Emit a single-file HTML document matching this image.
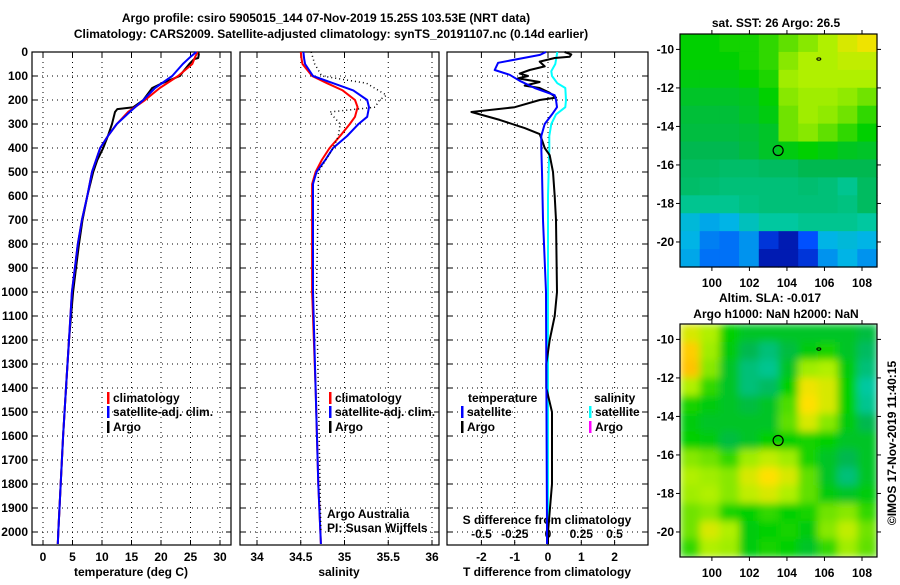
<!DOCTYPE html>
<html><head><meta charset="utf-8"><style>
body{margin:0;background:#fff}
svg text{font-family:"Liberation Sans",sans-serif;font-weight:bold;font-size:12px;fill:#000}
</style></head><body>
<svg id="c" width="900" height="580" xmlns="http://www.w3.org/2000/svg">
<defs>
<filter id="blur" x="0" y="0" width="1" height="1"><feGaussianBlur stdDeviation="4" edgeMode="duplicate"/></filter>
<clipPath id="clip2"><rect x="680" y="324" width="197" height="233"/></clipPath>
</defs>
<text x="326" y="22" text-anchor="middle" font-size="13">Argo profile: csiro 5905015_144 07-Nov-2019 15.25S 103.53E (NRT data)</text>
<text x="331" y="38" text-anchor="middle" font-size="13">Climatology: CARS2009. Satellite-adjusted climatology: synTS_20191107.nc (0.14d earlier)</text>
</svg>
<script>
const depthTicks=[0,100,200,300,400,500,600,700,800,900,1000,1100,1200,1300,1400,1500,1600,1700,1800,1900,2000];
const tempTicks=[0,5,10,15,20,25,30];
const salTicks=[34,34.5,35,35.5,36];
const dTTicks=[-2,-1,0,1,2];
const dSTicks=[-0.5,-0.25,0,0.25,0.5];
const dSTickLabels=["-0.5","-0.25","0","0.25","0.5"];
// temperature profiles
const tArgoDepth=[0,10,25,30,50,80,100,130,150,200,230,238,250,300,350,400,450,500,600,700,800,900,1000,1200,1400,1600,1800,2000,2050];
const tArgo=[26.3,26.4,26.3,25.6,24.8,23.8,23.2,20.2,18.5,17.0,15.3,12.6,12.2,11.7,11.0,10.2,9.2,8.5,7.5,6.7,6.1,5.6,5.1,4.4,3.9,3.4,3.0,2.6,2.5];
const tClimDepth=[0,20,50,100,150,200,250,300,350,400,450,500,600,700,800,900,1000,1200,1400,1600,1800,2000,2050];
const tClim=[26.2,25.8,25.3,22.9,19.8,17.3,14.4,12.5,11.0,9.7,9.0,8.3,7.5,6.6,5.9,5.4,4.9,4.4,3.9,3.4,3.0,2.6,2.5];
const tSat=[26.0,25.0,23.7,21.9,19.0,17.0,14.7,12.5,11.0,9.7,9.0,8.3,7.5,6.6,5.9,5.4,4.9,4.4,3.9,3.4,3.0,2.6,2.5];
// salinity profiles
const sDepth=[0,30,50,100,130,160,200,230,270,300,350,400,450,500,550,700,1000,1400,1800,2050];
const sClim=[34.50,34.51,34.52,34.63,34.80,34.98,35.12,35.15,35.12,35.06,34.95,34.83,34.74,34.67,34.63,34.63,34.63,34.67,34.70,34.73];
const sSat=[34.53,34.54,34.55,34.64,34.87,35.10,35.26,35.28,35.26,35.16,35.03,34.87,34.78,34.68,34.64,34.64,34.64,34.67,34.70,34.73];
const sArgoDepth=[0,50,100,130,180,200,230,250,300,350,400,500,600,1000,1400,2000];
const sArgo=[34.62,34.66,34.74,35.25,35.48,35.40,35.35,34.83,34.95,34.93,34.87,34.70,34.70,34.68,34.70,34.73];
// differences
const dTSatDepth=[0,12,45,75,95,120,150,180,200,230,260,300,350,400,500,700,1000,2000,2050];
const dTSat=[-0.06,-0.24,-1.5,-1.6,-1.15,-0.85,-0.4,0.2,0.24,0.27,0.12,-0.1,-0.2,-0.2,-0.18,-0.15,-0.06,-0.03,-0.03];
const dTArgoDepth=[0,10,20,25,40,60,75,90,100,110,125,140,150,170,190,200,230,250,283,317,342,367,400,430,500,600,700,1000,1100,1200,1300,1400,1500,1700,1800,2000,2050];
const dTArgo=[0.5,0.7,0.65,0.2,-0.25,-0.1,-0.55,-0.85,-0.6,-0.9,-0.25,-0.7,-0.25,0.05,0.24,-0.25,-1.0,-2.3,-1.45,-0.7,-0.25,-0.18,-0.1,0.05,0.15,0.2,0.24,0.27,0.2,0.05,-0.05,-0.05,0.12,0.12,0.12,0.0,0.0];
const dSSatDepth=[0,50,80,100,130,150,200,230,260,300,350,400,600,1000,2000,2050];
const dSSat=[0.07,0.055,0.025,0.03,0.07,0.13,0.135,0.13,0.06,0.025,0.01,0.01,0.0,0.0,0.0,0.0];
// maps: rows from north (-9.2) to south (-21.3), cols west (98.3) to east (108.8)
const sstGrid=[
[0.6,0.6,0.62,0.62,0.65,0.7,0.75,0.8,0.85,0.88],
[0.6,0.6,0.6,0.62,0.65,0.75,0.8,0.8,0.82,0.82],
[0.58,0.58,0.58,0.6,0.63,0.78,0.8,0.8,0.8,0.8],
[0.55,0.55,0.55,0.56,0.6,0.75,0.78,0.78,0.76,0.72],
[0.53,0.53,0.53,0.55,0.58,0.72,0.78,0.76,0.72,0.65],
[0.52,0.52,0.52,0.53,0.55,0.72,0.75,0.7,0.65,0.6],
[0.5,0.5,0.5,0.52,0.55,0.58,0.6,0.58,0.56,0.55],
[0.48,0.48,0.47,0.47,0.48,0.48,0.5,0.5,0.5,0.5],
[0.47,0.46,0.45,0.45,0.45,0.45,0.46,0.45,0.42,0.48],
[0.42,0.42,0.42,0.44,0.45,0.45,0.45,0.45,0.44,0.48],
[0.32,0.28,0.3,0.36,0.4,0.4,0.42,0.42,0.42,0.4],
[0.3,0.22,0.2,0.25,0.1,0.05,0.15,0.3,0.32,0.3],
[0.28,0.2,0.2,0.25,0.05,0.05,0.1,0.25,0.3,0.25]];
const slaGrid=[
[0.85,0.8,0.6,0.55,0.55,0.55,0.55,0.55,0.55,0.52],
[0.92,0.78,0.58,0.5,0.45,0.52,0.58,0.62,0.55,0.48],
[0.93,0.75,0.55,0.45,0.42,0.55,0.78,0.8,0.58,0.45],
[0.8,0.65,0.55,0.45,0.48,0.6,0.88,0.85,0.6,0.4],
[0.62,0.58,0.55,0.52,0.55,0.68,0.9,0.85,0.6,0.42],
[0.58,0.55,0.55,0.55,0.55,0.7,0.85,0.75,0.58,0.5],
[0.6,0.58,0.52,0.55,0.6,0.6,0.62,0.6,0.55,0.55],
[0.75,0.72,0.65,0.78,0.82,0.78,0.62,0.55,0.5,0.55],
[0.8,0.78,0.75,0.85,0.9,0.85,0.7,0.55,0.45,0.55],
[0.78,0.8,0.75,0.82,0.85,0.8,0.7,0.58,0.55,0.58],
[0.72,0.75,0.62,0.6,0.65,0.6,0.62,0.72,0.75,0.65],
[0.72,0.85,0.8,0.58,0.6,0.62,0.58,0.75,0.82,0.72],
[0.65,0.8,0.78,0.58,0.62,0.6,0.55,0.65,0.78,0.7]];
const latTicks=[-10,-12,-14,-16,-18,-20];
const lonTicks=[100,102,104,106,108];
const argoPos=[103.53,-15.25];

const svg=document.getElementById('c');
const NS='http://www.w3.org/2000/svg';
function el(tag,attrs,parent){const e=document.createElementNS(NS,tag);for(const k in attrs)e.setAttribute(k,attrs[k]);(parent||svg).appendChild(e);return e;}
const TOP=52,BOT=545;
const yD=d=>TOP+d*0.24;
const xT=t=>43+t*5.9;
const xS=s=>257+(s-34)*87.5;
const xdT=t=>548+t*33.3;
const xdS=s=>548+s*133;
const panels=[{x0:32,x1:231},{x0:240,x1:439},{x0:447,x1:648}];

function panelFrame(p,xs,ticks,labels,name){
  const g=el('g',{});
  
  
  depthTicks.forEach(d=>{
    const l=el('line',{x1:p.x0,x2:p.x1,y1:yD(d),y2:yD(d),stroke:'#000','stroke-width':1,'stroke-dasharray':'1,4'},g);
    
    
    el('line',{x1:p.x0,x2:p.x0+5,y1:yD(d),y2:yD(d),stroke:'#000'},g);
    el('line',{x1:p.x1-5,x2:p.x1,y1:yD(d),y2:yD(d),stroke:'#000'},g);
  });
  ticks.forEach((t,i)=>{
    const x=xs(t);
    const l=el('line',{x1:x,x2:x,y1:TOP,y2:BOT,stroke:'#000','stroke-dasharray':'1,4'},g);
    
    
    el('line',{x1:x,x2:x,y1:BOT-5,y2:BOT,stroke:'#000'},g);
    el('line',{x1:x,x2:x,y1:TOP,y2:TOP+5,stroke:'#000'},g);
    const tx=el('text',{x:x,y:561,'text-anchor':'middle'},g);
    tx.textContent=labels[i];
    
    
  });
  el('rect',{x:p.x0,y:TOP,width:p.x1-p.x0,height:BOT-TOP,fill:'none',stroke:'#000','stroke-width':1.2},g);
}
panelFrame(panels[0],xT,tempTicks,tempTicks.map(String),'temperature-panel');
panelFrame(panels[1],xS,salTicks,salTicks.map(String),'salinity-panel');
panelFrame(panels[2],xdT,dTTicks,dTTicks.map(String),'difference-panel');

depthTicks.forEach(d=>{
  const t=el('text',{x:28,y:yD(d)+4,'text-anchor':'end'});
  t.textContent=d;
  
  
});
function txt(s,x,y,name,extra){const t=el('text',Object.assign({x:x,y:y},extra||{}));t.textContent=s;return t;}
txt('temperature (deg C)',131,576,'x-axis-title-temperature',{'text-anchor':'middle'});
txt('salinity',339,576,'x-axis-title-salinity',{'text-anchor':'middle'});
txt('T difference from climatology',547,576,'x-axis-title-t-difference',{'text-anchor':'middle'});
txt('S difference from climatology',547,524,'s-difference-axis-title',{'text-anchor':'middle'});
dSTicks.forEach((s,i)=>{txt(dSTickLabels[i],xdS(s),538,'s-difference-tick-label',{'text-anchor':'middle'});});

function line(xs,ds,vs,color,w,name,dash){
  const pts=ds.map((d,i)=>xs(vs[i]).toFixed(1)+','+yD(d).toFixed(1)).join(' ');
  const a={points:pts,fill:'none',stroke:color,'stroke-width':w,'stroke-linejoin':'round'};
  if(dash)a['stroke-dasharray']=dash;
  const p=el('polyline',a);
  
  
}
line(xT,tArgoDepth,tArgo,'#000',2,'temperature-argo-line');
line(xT,tClimDepth,tClim,'#f00',2,'temperature-climatology-line');
line(xT,tClimDepth,tSat,'#00f',2,'temperature-satellite-line');
line(xS,sDepth,sClim,'#f00',2,'salinity-climatology-line');
line(xS,sDepth,sSat,'#00f',2,'salinity-satellite-line');
line(xS,sArgoDepth,sArgo,'#000',1.5,'salinity-argo-line','1,3');
line(xdS,dSSatDepth,dSSat,'#00ffff',2,'s-difference-satellite-line');
line(xdT,dTArgoDepth,dTArgo,'#000',2,'t-difference-argo-line');
line(xdT,dTSatDepth,dTSat,'#00f',2,'t-difference-satellite-line');

function legend(x,y,color,label,name){
  const r=el('rect',{x:x,y:y-10,width:2.5,height:12,fill:color});
  
  
  txt(label,x+6,y,name);
}
legend(107,402,'#f00','climatology','legend-climatology');
legend(107,416,'#00f','satellite-adj. clim.','legend-satellite-adj');
legend(107,431,'#000','Argo','legend-argo');
legend(329,402,'#f00','climatology','legend-sal-climatology');
legend(329,416,'#00f','satellite-adj. clim.','legend-sal-satellite-adj');
legend(329,431,'#000','Argo','legend-sal-argo');
txt('temperature',468,402,'legend-title-temperature');
legend(461,416,'#00f','satellite','legend-t-satellite');
legend(461,431,'#000','Argo','legend-t-argo');
txt('salinity',594,402,'legend-title-salinity');
legend(589,416,'#00ffff','satellite','legend-s-satellite');
legend(589,431,'#ff00ff','Argo','legend-s-argo');
txt('Argo Australia',327,518,'credit-argo-australia',{'font-weight':'normal','fill':'#333'});
txt('PI: Susan Wijffels',327,532,'credit-pi',{'font-weight':'normal','fill':'#333'});

// colormap
const stops=[[0,[0,0,140]],[0.15,[0,80,255]],[0.3,[0,180,230]],[0.4,[0,200,160]],[0.5,[0,184,80]],[0.6,[0,208,0]],[0.7,[96,224,0]],[0.8,[176,240,0]],[0.9,[255,224,0]],[1,[255,128,0]]];
function cmap(v){for(let i=1;i<stops.length;i++){if(v<=stops[i][0]){const a=stops[i-1],b=stops[i];const f=(v-a[0])/(b[0]-a[0]);return 'rgb('+a[1].map((c,k)=>Math.round(c+(b[1][k]-c)*f)).join(',')+')';}}return 'rgb(255,128,0)';}
const LON0=98.3,LON1=108.8,LAT0=-9.2,LAT1=-21.3,MX0=680,MX1=877;
const mx=lon=>MX0+(lon-LON0)*(MX1-MX0)/(LON1-LON0);
function drawMap(top,bot,grid,name,blur){
  const my=lat=>top+(LAT0-lat)*(bot-top)/(LAT0-LAT1);
  const g0=el('g',blur?{'clip-path':'url(#clip2)'}:{});
  const g=el('g',blur?{filter:'url(#blur)'}:{},g0);
  
  
  const rows=grid.length,cols=grid[0].length;
  const cw=(MX1-MX0)/cols,ch=(bot-top)/rows;
  grid.forEach((row,r)=>row.forEach((v,c)=>{
    const cell=el('rect',{x:MX0+c*cw,y:top+r*ch,width:cw+0.6,height:ch+0.6,fill:cmap(v)},g);
    
    
  }));
  el('rect',{x:MX0,y:top,width:MX1-MX0,height:bot-top,fill:'none',stroke:'#000','stroke-width':1.2});
  latTicks.forEach(l=>{
    const y=my(l);
    el('line',{x1:MX0-4,x2:MX0,y1:y,y2:y,stroke:'#000'});
    el('line',{x1:MX1,x2:MX1+4,y1:y,y2:y,stroke:'#000'});
    txt(String(l),674,y+4,'latitude-tick-label',{'text-anchor':'end'});
  });
  lonTicks.forEach(l=>{
    const x=mx(l);
    el('line',{x1:x,x2:x,y1:bot,y2:bot+4,stroke:'#000'});
    el('line',{x1:x,x2:x,y1:top-4,y2:top,stroke:'#000'});
    txt(String(l),x,bot+20,'longitude-tick-label',{'text-anchor':'middle'});
  });
  const c=el('circle',{cx:mx(argoPos[0]),cy:my(argoPos[1]),r:5,fill:'none',stroke:'#000','stroke-width':1.2});
  
  
  el('ellipse',{cx:mx(105.7),cy:my(-10.5),rx:2,ry:1.2,fill:'none',stroke:'#000'});
}
drawMap(34,267,sstGrid,'sst-map',false);
drawMap(324,557,slaGrid,'sla-map',true);
txt('sat. SST: 26 Argo: 26.5',776,27,'sst-map-title',{'text-anchor':'middle'});
txt('Altim. SLA: -0.017',770,302,'sla-map-title',{'text-anchor':'middle'});
txt('Argo h1000: NaN h2000: NaN',776,318,'sla-map-subtitle',{'text-anchor':'middle'});
txt('©IMOS 17-Nov-2019 11:40:15',896,443,'imos-timestamp',{'text-anchor':'middle','font-weight':'normal',transform:'rotate(-90 896 443)'});
</script>
</body></html>
